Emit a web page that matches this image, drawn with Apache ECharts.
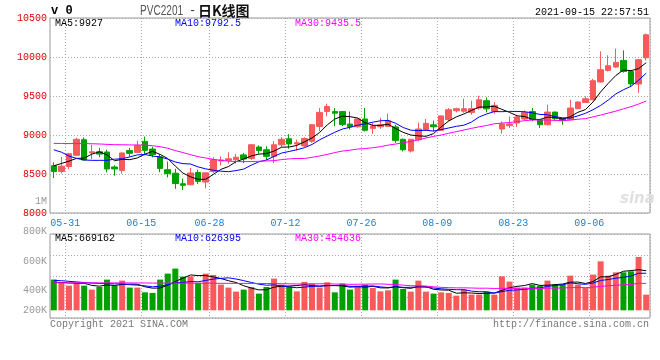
<!DOCTYPE html>
<html><head><meta charset="utf-8">
<script src="https://cdn.jsdelivr.net/npm/echarts/dist/echarts.min.js"></script>
<style>html,body{margin:0;padding:0;background:#fff}#c{width:660px;height:360px}</style>
</head><body><div id="c"></div>
<script>
const dates = ['05-27','05-28','05-31','06-01','06-02','06-03','06-04','06-07','06-08','06-09','06-10','06-11','06-15','06-16','06-17','06-18','06-21','06-22','06-23','06-24','06-25','06-28','06-29','06-30','07-01','07-02','07-05','07-06','07-07','07-08','07-09','07-12','07-13','07-14','07-15','07-16','07-19','07-20','07-21','07-22','07-23','07-26','07-27','07-28','07-29','07-30','08-02','08-03','08-04','08-05','08-06','08-09','08-10','08-11','08-12','08-13','08-16','08-17','08-18','08-19','08-20','08-23','08-24','08-25','08-26','08-27','08-30','08-31','09-01','09-02','09-03','09-06','09-07','09-08','09-09','09-10','09-13','09-14','09-15'];
const labelDates = ['05-31','06-15','06-28','07-12','07-26','08-09','08-23','09-06'];
const opens = [8606,8533,8597,8740,8940,8770,8785,8782,8590,8546,8800,8777,8918,8820,8720,8555,8510,8375,8363,8520,8397,8533,8668,8675,8683,8745,8700,8846,8811,8726,8875,8952,8885,8860,8920,9110,9302,9300,9300,9140,9105,9205,9085,9105,9110,9103,8945,8795,8940,9068,9130,9060,9196,9311,9305,9290,9346,9440,9302,9077,9119,9154,9205,9300,9196,9132,9294,9209,9196,9337,9418,9452,9680,9828,9871,9956,9815,9654,9990];
const closes = [8533,8600,8760,8945,8680,8785,8755,8564,8565,8770,8765,8865,8803,8750,8572,8504,8378,8355,8513,8405,8515,8683,8680,8695,8715,8692,8875,8800,8726,8875,8945,8885,8900,8955,9132,9290,9366,9280,9135,9105,9205,9060,9115,9130,9183,8931,8811,8945,9077,9150,9105,9245,9324,9337,9337,9337,9452,9335,9380,9141,9141,9231,9290,9200,9132,9294,9209,9185,9346,9423,9465,9696,9837,9888,9931,9815,9655,9965,10285];
const lows = [8449,8508,8564,8730,8670,8690,8715,8522,8478,8505,8722,8770,8740,8713,8522,8457,8310,8295,8355,8372,8315,8510,8610,8632,8635,8640,8680,8760,8680,8640,8846,8825,8800,8845,8900,9050,9238,9112,9115,9070,9095,9045,9015,9080,9105,8900,8790,8775,8920,9050,9045,9055,9175,9290,9285,9260,9324,9290,9273,9017,9090,9103,9187,9175,9090,9125,9180,9132,9190,9330,9410,9445,9670,9815,9860,9800,9620,9540,9955];
const highs = [8649,8718,8770,8965,8969,8875,8835,8811,8612,8775,8833,8927,8980,8850,8756,8660,8566,8440,8577,8556,8520,8715,8726,8777,8756,8770,8880,8867,8854,8920,8970,9010,8940,8970,9135,9346,9401,9346,9305,9302,9215,9346,9155,9220,9275,9132,8955,8950,9160,9205,9185,9250,9346,9350,9465,9440,9504,9482,9423,9174,9238,9260,9315,9346,9200,9388,9300,9215,9452,9430,9495,9720,10072,10021,10106,10085,9830,9975,10300];
const ma5 = [8605,8635,8665,8700,8704,8754,8785,8746,8670,8688,8684,8706,8754,8791,8751,8699,8601,8512,8464,8431,8433,8494,8559,8596,8658,8693,8731,8755,8762,8794,8844,8846,8866,8912,8963,9032,9129,9205,9241,9235,9218,9157,9124,9123,9139,9084,9034,9000,8989,8983,9018,9104,9180,9232,9270,9316,9357,9360,9368,9329,9290,9246,9237,9201,9199,9229,9225,9204,9233,9291,9326,9423,9553,9662,9763,9833,9825,9851,9927];
const ma10 = [8810,8780,8730,8700,8680,8675,8675,8675,8690,8696,8719,8745,8750,8730,8719,8691,8654,8633,8628,8591,8566,8548,8536,8530,8544,8563,8613,8657,8679,8726,8769,8789,8811,8837,8879,8938,8987,9035,9076,9099,9125,9143,9164,9182,9187,9151,9096,9062,9056,9061,9051,9069,9090,9111,9126,9167,9231,9270,9300,9299,9303,9302,9298,9284,9264,9260,9235,9220,9217,9245,9278,9324,9379,9448,9527,9580,9624,9702,9792.5];
const ma30 = [8892,8892,8890,8890,8890,8888,8885,8880,8876,8875,8873,8872,8870,8862,8850,8830,8800,8775,8748,8722,8705,8688,8675,8665,8660,8658,8660,8663,8668,8671,8685,8694,8699,8699,8714,8731,8751,8775,8794,8805,8820,8826,8837,8850,8870,8884,8899,8918,8937,8962,8982,9000,9022,9043,9064,9085,9105,9122,9144,9153,9160,9171,9184,9192,9192,9192,9187,9184,9191,9202,9210,9232,9256,9281,9306,9335,9363,9397,9435.5];
const volumes = [519000,463000,417000,463000,417000,350000,395000,519000,417000,502000,384000,384000,304000,294000,519000,620000,705000,570000,575000,463000,620000,598000,434000,384000,316000,350000,395000,282000,395000,536000,434000,406000,321000,480000,451000,384000,473000,304000,451000,350000,417000,434000,378000,321000,338000,519000,361000,316000,502000,316000,282000,304000,294000,248000,350000,265000,265000,316000,265000,575000,485000,384000,384000,434000,417000,502000,434000,434000,586000,434000,378000,603000,828000,586000,642000,642000,659000,902000,265000];
const volMa5 = [473000,470000,462000,458000,456000,422000,408000,429000,420000,437000,443000,441000,398000,374000,377000,424000,488000,542000,598000,587000,587000,565000,538000,500000,470000,416000,376000,345000,348000,392000,408000,411000,418000,435000,418000,408000,422000,418000,413000,392000,399000,391000,406000,380000,378000,398000,383000,371000,407000,403000,355000,344000,340000,289000,296000,292000,284000,289000,292000,337000,381000,405000,419000,452000,421000,424000,434000,444000,475000,478000,453000,487000,566000,566000,607000,660000,671000,686000,669162];
const volMa10 = [507000,500000,490000,480000,470000,460000,455000,450000,448000,446000,433000,425000,414000,397000,407000,434000,465000,470000,486000,482000,505000,527000,540000,549000,529000,502000,471000,442000,424000,431000,412000,393000,382000,392000,405000,408000,416000,418000,424000,405000,404000,407000,412000,396000,385000,399000,387000,389000,394000,390000,377000,364000,355000,348000,349000,324000,314000,314000,291000,316000,337000,345000,354000,372000,379000,403000,420000,431000,464000,449000,439000,461000,505000,520000,543000,557000,579000,626000,626395];
const volMa30 = [465000,465000,465000,465000,465000,465000,464000,464000,463000,463000,463000,462000,462000,461000,460000,460000,459000,459000,458000,458000,457000,457000,456000,456000,455000,455000,454000,454000,453000,453000,450000,448000,445000,446000,447000,448000,451000,443000,444000,439000,441000,442000,445000,446000,440000,436000,425000,416000,414000,409000,398000,388000,383000,379000,380000,377000,373000,374000,369000,371000,372000,372000,374000,372000,371000,375000,374000,378000,383000,385000,384000,390000,405000,414000,424000,428000,438000,457000,454636];
const volTickLabels = ['800K','600K','400K','200K'];

const UP = '#f75a5a', DOWN = '#00a000';
const MONO = '"Liberation Mono","DejaVu Sans Mono",monospace';
const last = a => a[a.length - 1];
const dotted = {color: '#a8a8a8', type: [1, 2], width: 1};
const isLabelDate = (i) => labelDates.indexOf(dates[i]) >= 0;

const chart = echarts.init(document.getElementById('c'), null, {renderer: 'canvas'});
const txt = (text, x, y, fill, font, align, extra) => Object.assign({
  type: 'text', x: x, y: y, silent: true, z: 100,
  style: {text: text, fill: fill, font: font, align: align || 'left', textAlign: align || 'left', verticalAlign: 'middle', textVerticalAlign: 'middle'}
}, extra || {});
const volLabelY = [231, 261, 290, 310];

chart.setOption({
  animation: false,
  backgroundColor: '#fff',
  grid: [
    {left: 50, right: 10, top: 18, height: 195, show: true, borderColor: '#999', borderWidth: 1},
    {left: 50, right: 10, top: 234, height: 84, show: true, borderColor: '#999', borderWidth: 1}
  ],
  xAxis: [
    {type: 'category', gridIndex: 0, data: dates, boundaryGap: true,
     axisLine: {show: false}, axisTick: {show: false},
     axisLabel: {interval: isLabelDate, color: '#1a82d4', fontFamily: MONO, fontSize: 10, margin: 5, padding: [0, 7.6, 0, 0]},
     splitLine: {show: true, interval: isLabelDate, lineStyle: dotted}},
    {type: 'category', gridIndex: 1, data: dates, boundaryGap: true,
     axisLine: {show: false}, axisTick: {show: false}, axisLabel: {show: false},
     splitLine: {show: true, interval: isLabelDate, lineStyle: dotted}}
  ],
  yAxis: [
    {type: 'value', gridIndex: 0, min: 8000, max: 10500, interval: 500,
     axisLine: {show: false}, axisTick: {show: false},
     axisLabel: {color: '#e00000', fontFamily: MONO, fontSize: 10, margin: 3, formatter: (v) => String(v)},
     splitLine: {show: true, lineStyle: dotted}},
    {type: 'value', gridIndex: 1, min: -130000, max: 1290000,
     axisLine: {show: false}, axisTick: {show: false}, axisLabel: {show: false}, splitLine: {show: false}},
    {type: 'value', gridIndex: 1, min: 0, max: 4, interval: 1,
     axisLine: {show: false}, axisTick: {show: false}, axisLabel: {show: false}, splitLine: {show: true, lineStyle: dotted}}
  ],
  series: [
    {type: 'candlestick', xAxisIndex: 0, yAxisIndex: 0, barWidth: 6,
     data: dates.map((d, i) => [opens[i], closes[i], lows[i], highs[i]]),
     itemStyle: {color: UP, color0: DOWN, borderColor: UP, borderColor0: DOWN, borderWidth: 1}},
    {type: 'line', name: 'MA5', xAxisIndex: 0, yAxisIndex: 0, data: ma5, symbol: 'none', lineStyle: {color: '#000', width: 1}, z: 5},
    {type: 'line', name: 'MA10', xAxisIndex: 0, yAxisIndex: 0, data: ma10, symbol: 'none', lineStyle: {color: '#0000ff', width: 1}, z: 5},
    {type: 'line', name: 'MA30', xAxisIndex: 0, yAxisIndex: 0, data: ma30, symbol: 'none', lineStyle: {color: '#ff00ff', width: 1}, z: 5},
    {type: 'bar', xAxisIndex: 1, yAxisIndex: 1, barWidth: 6,
     data: volumes.map((v, i) => ({value: v, itemStyle: {color: closes[i] >= opens[i] ? UP : DOWN}}))},
    {type: 'line', xAxisIndex: 1, yAxisIndex: 1, data: volMa5, symbol: 'none', lineStyle: {color: '#000', width: 1}, z: 5},
    {type: 'line', xAxisIndex: 1, yAxisIndex: 1, data: volMa10, symbol: 'none', lineStyle: {color: '#0000ff', width: 1}, z: 5},
    {type: 'line', xAxisIndex: 1, yAxisIndex: 1, data: volMa30, symbol: 'none', lineStyle: {color: '#ff00ff', width: 1}, z: 5}
  ],
  graphic: [
    txt('v 0', 51, 11, '#000', 'bold 12px ' + MONO),
    txt('PVC2201', 140, 11, '#555', '14px "Liberation Sans"', 'left', {scaleX: 0.72}),
    txt('-', 189, 11, '#333', '12px ' + MONO),
    txt('日K线图', 198, 11, '#111', 'bold 14px "Noto Sans CJK SC"'),
    txt('2021-09-15 22:57:51', 649, 12, '#000', '10px ' + MONO, 'right'),
    txt('MA5:' + last(ma5), 55, 23.5, '#000', '10px ' + MONO),
    txt('MA10:' + last(ma10), 175, 23.5, '#0000ff', '10px ' + MONO),
    txt('MA30:' + last(ma30), 295, 23.5, '#ff00ff', '10px ' + MONO),
    txt('MA5:' + last(volMa5), 55, 238.5, '#000', '10px ' + MONO),
    txt('MA10:' + last(volMa10), 175, 238.5, '#0000ff', '10px ' + MONO),
    txt('MA30:' + last(volMa30), 295, 238.5, '#ff00ff', '10px ' + MONO),
    txt('1M', 47, 201, '#999', '10px ' + MONO, 'right'),
    ...volTickLabels.map((t, k) => txt(t, 47, volLabelY[k], '#999', '10px ' + MONO, 'right')),
    txt('Copyright 2021 SINA.COM', 50, 324, '#777', '10px ' + MONO),
    txt('http://finance.sina.com.cn', 649, 324, '#777', '10px ' + MONO, 'right'),
    txt('sina', 620, 199, '#e0e0e0', 'italic bold 15px "DejaVu Sans"')
  ]
});
</script>
</body></html>
